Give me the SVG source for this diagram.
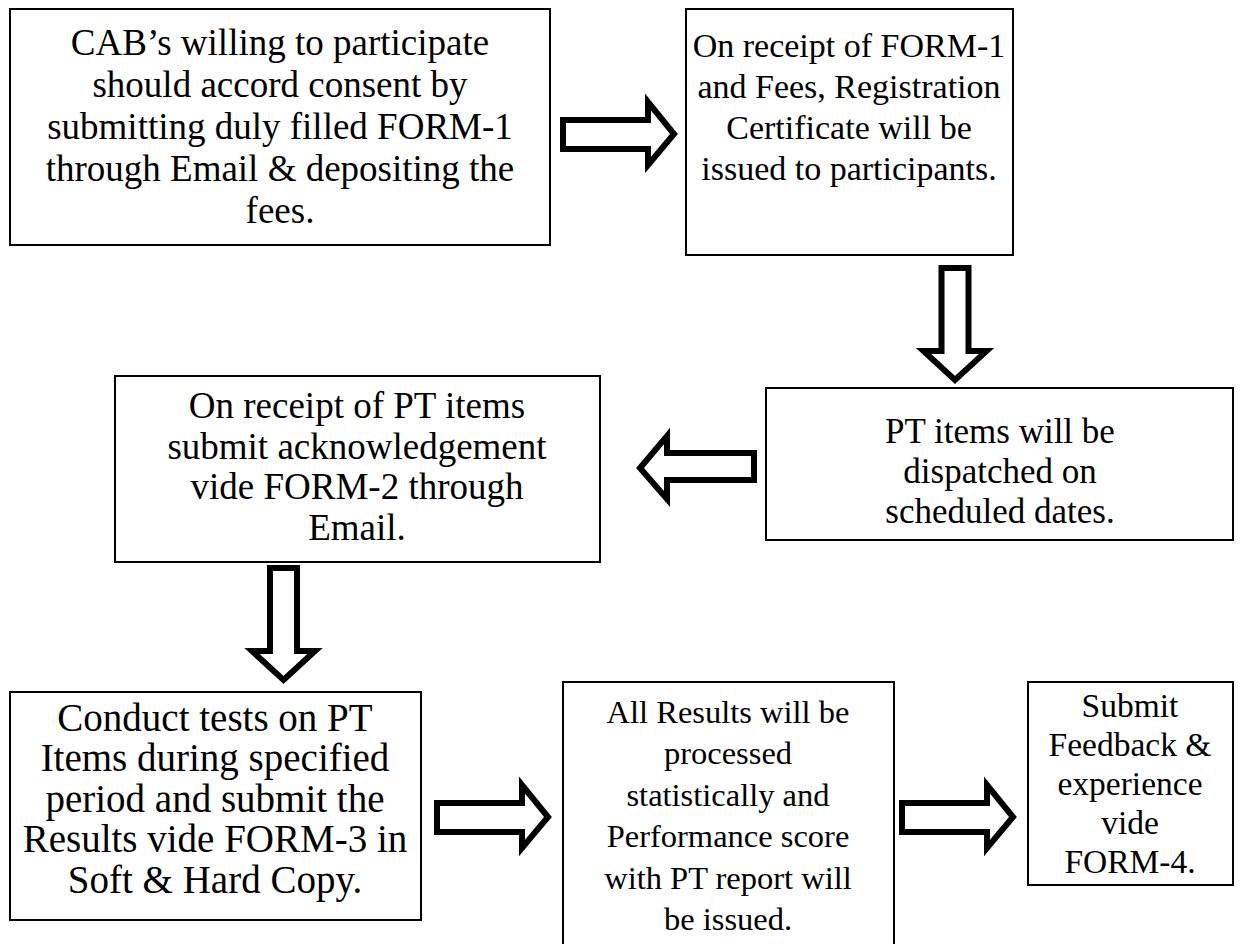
<svg xmlns="http://www.w3.org/2000/svg" width="1260" height="944" viewBox="0 0 1260 944">
<style>
.box{fill:#fff;stroke:#000;stroke-width:2}
.arr{fill:#fff;stroke:#000;stroke-width:6;stroke-linejoin:miter}
text{font-family:"Liberation Serif","Times New Roman",serif;fill:#000;text-anchor:middle}
</style>
<rect width="1260" height="944" fill="#fff"/>
<g id="n1" font-size="37"><rect class="box" x="10" y="9" width="540" height="236"/>
<text x="280" y="55">CAB’s willing to participate</text>
<text x="280" y="97">should accord consent by</text>
<text x="280" y="139">submitting duly filled FORM-1</text>
<text x="280" y="181">through Email &amp; depositing the</text>
<text x="280" y="223">fees.</text></g>
<g id="n2" font-size="34"><rect class="box" x="686" y="9" width="327" height="246"/>
<text x="849" y="57">On receipt of FORM-1</text>
<text x="849" y="98">and Fees, Registration</text>
<text x="849" y="139">Certificate will be</text>
<text x="849" y="180">issued to participants.</text></g>
<g id="n3" font-size="37"><rect class="box" x="115" y="376" width="485" height="186"/>
<text x="357" y="418">On receipt of PT items</text>
<text x="357" y="459">submit acknowledgement</text>
<text x="357" y="499">vide FORM-2 through</text>
<text x="357" y="540">Email.</text></g>
<g id="n4" font-size="35"><rect class="box" x="766" y="388" width="467" height="152"/>
<text x="1000" y="443">PT items will be</text>
<text x="1000" y="483">dispatched on</text>
<text x="1000" y="523">scheduled dates.</text></g>
<g id="n5" font-size="39"><rect class="box" x="10" y="692" width="411" height="228"/>
<text x="215" y="731">Conduct tests on PT</text>
<text x="215" y="771">Items during specified</text>
<text x="215" y="812">period and submit the</text>
<text x="215" y="852">Results vide FORM-3 in</text>
<text x="215" y="893">Soft &amp; Hard Copy.</text></g>
<g id="n6" font-size="32.5"><rect class="box" x="563" y="682" width="331" height="280"/>
<text x="728" y="723">All Results will be</text>
<text x="728" y="764">processed</text>
<text x="728" y="806">statistically and</text>
<text x="728" y="847">Performance score</text>
<text x="728" y="889">with PT report will</text>
<text x="728" y="930">be issued.</text></g>
<g id="n7" font-size="33.5"><rect class="box" x="1028" y="682" width="205" height="203"/>
<text x="1130" y="717">Submit</text>
<text x="1130" y="756">Feedback &amp;</text>
<text x="1130" y="795">experience</text>
<text x="1130" y="834">vide</text>
<text x="1130" y="873">FORM-4.</text></g>
<g id="connectors">
<polygon class="arr" points="563,120 648,120 648,102 674,134 648,165 648,149 563,149"/>
<polygon class="arr" points="941.5,268 968.5,268 968.5,351 986.5,351 955,380 923.5,351 941.5,351"/>
<polygon class="arr" points="754,453 667,453 667,436 640,468 667,499 667,480 754,480"/>
<polygon class="arr" points="270,568 297,568 297,651 315,651 283.5,680 252,651 270,651"/>
<polygon class="arr" points="437,803 522,803 522,785 548,817 522,848 522,832 437,832"/>
<polygon class="arr" points="902,803 987,803 987,785 1013,817 987,848 987,832 902,832"/>
</g>
</svg>
